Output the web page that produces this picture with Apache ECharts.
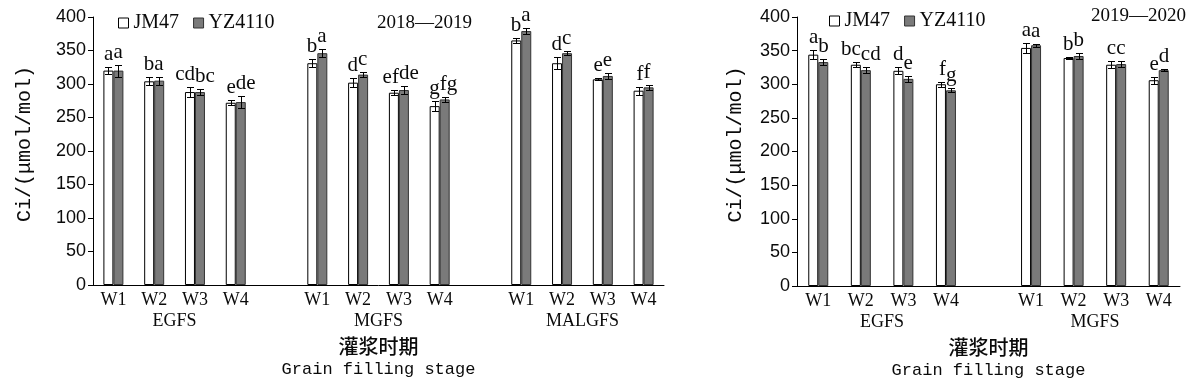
<!DOCTYPE html>
<html>
<head>
<meta charset="utf-8">
<script src="https://cdn.jsdelivr.net/npm/echarts@6/dist/echarts.min.js"></script>
<style>
html,body{margin:0;padding:0;background:#fff;}
#c{width:1200px;height:382px;}
</style>
</head>
<body>
<div id="c"></div>
<script>
// ---------- data ----------
const weeks = ['W1', 'W2', 'W3', 'W4'];
const groups1819 = ['EGFS', 'MGFS', 'MALGFS'];
const groups1920 = ['EGFS', 'MGFS'];
const yTicks = { min: 0, max: 400, interval: 50 };
const seriesNames = ['JM47', 'YZ4110'];
const titles = ['2018—2019', '2019—2020'];
const yName = 'Ci/(μmol/mol)';
const xNameCn = '灌浆时期';
const xNameEn = 'Grain filling stage';

// 2018-2019 (EGFS W1-W4, MGFS W1-W4, MALGFS W1-W4)
const jm47_1819 = [320, 304, 288, 272, 331, 302, 287, 267, 365, 331, 307, 290];
const jm47_1819_err = [5, 6, 7, 4, 6, 7, 4, 7, 4, 9, 1.5, 6];
const jm47_1819_sig = ['a', 'b', 'cd', 'e', 'b', 'd', 'ef', 'g', 'b', 'd', 'e', 'f'];
const yz_1819 = [320, 305, 288, 273, 346, 314, 291, 277, 379, 346, 312, 295];
const yz_1819_err = [9, 6, 5, 9, 6, 4, 6, 4, 5, 3, 5, 4];
const yz_1819_sig = ['a', 'a', 'bc', 'de', 'a', 'c', 'de', 'fg', 'a', 'c', 'e', 'f'];

// 2019-2020 (EGFS W1-W4, MGFS W1-W4)
const jm47_1920 = [344, 329, 320, 300, 354, 339, 329, 306];
const jm47_1920_err = [7, 4, 5, 4, 7, 1, 5, 5];
const jm47_1920_sig = ['a', 'bc', 'd', 'f', 'a', 'b', 'c', 'e'];
const yz_1920 = [333, 321, 308, 291, 358, 342, 330, 321];
const yz_1920_err = [5, 4, 4, 3, 2, 4, 4, 2];
const yz_1920_sig = ['b', 'cd', 'e', 'g', 'a', 'b', 'c', 'd'];

// ---------- helpers ----------
const BAR_W = 10;
const SERIF = '"Liberation Serif", "DejaVu Serif", serif';
const SANS = '"Liberation Sans", Arial, sans-serif';
const MONO = '"Liberation Mono", "DejaVu Sans Mono", monospace';
const CJK = '"Noto Sans CJK SC", sans-serif';
const INK = '#0a0a0a';

function buildCats(groups) {
  const cats = [];
  groups.forEach((g, gi) => {
    if (gi > 0) cats.push('gap' + gi);
    weeks.forEach(w => cats.push(g + '|' + w));
  });
  return cats;
}
function catIndex(i) { return i + Math.floor(i / weeks.length); }
function toCatData(vals, nCats) {
  const out = new Array(nCats).fill('-');
  vals.forEach((v, i) => { out[catIndex(i)] = v; });
  return out;
}
const cats1819 = buildCats(groups1819);
const cats1920 = buildCats(groups1920);

function barSeries(name, vals, cats, axis, white) {
  return {
    type: 'bar', name: name, xAxisIndex: axis, yAxisIndex: axis,
    data: toCatData(vals, cats.length),
    barWidth: BAR_W, barGap: '0%',
    itemStyle: white
      ? { color: '#ffffff', borderColor: '#000000', borderWidth: 1 }
      : { color: '#7a7a7a', borderColor: '#333333', borderWidth: 1 },
    emphasis: { disabled: true },
    z: 2
  };
}
function errSeries(vals, errs, sigs, axis, side) {
  return {
    type: 'custom', name: 'err' + axis + side, xAxisIndex: axis, yAxisIndex: axis,
    data: vals.map((v, i) => [catIndex(i), v, errs[i]]),
    z: 5, silent: true,
    renderItem: function (params, api) {
      const ci = api.value(0), v = api.value(1), e = api.value(2);
      const base = api.coord([ci, v]);
      const x = Math.round(base[0] + side * BAR_W / 2) + 0.5;
      const yTop = Math.round(api.coord([ci, v + e])[1]) + 0.5;
      const yBot = Math.round(api.coord([ci, v - e])[1]) + 0.5;
      const cap = 3.5;
      const st = { stroke: '#000', lineWidth: 1 };
      return {
        type: 'group', children: [
          { type: 'line', shape: { x1: x, y1: yTop, x2: x, y2: yBot }, style: st },
          { type: 'line', shape: { x1: x - cap, y1: yTop, x2: x + cap, y2: yTop }, style: st },
          { type: 'line', shape: { x1: x - cap, y1: yBot, x2: x + cap, y2: yBot }, style: st },
          { type: 'text', x: base[0], y: yTop - 3,
            style: { text: sigs[params.dataIndex], align: side < 0 ? 'right' : 'left',
                     verticalAlign: 'bottom', font: '21px ' + SERIF, fill: INK } }
        ]
      };
    }
  };
}
function xAxisDef(cats, grid) {
  return {
    type: 'category', gridIndex: grid, data: cats,
    axisLine: { lineStyle: { color: '#000', width: 1 } },
    axisTick: { show: false },
    axisLabel: {
      interval: 0, margin: 6, color: INK, fontSize: 18, fontFamily: SERIF,
      formatter: v => (v.indexOf('|') >= 0 ? v.split('|')[1] : '')
    },
    splitLine: { show: false }
  };
}
function yAxisDef(grid) {
  return {
    type: 'value', gridIndex: grid, min: yTicks.min, max: yTicks.max, interval: yTicks.interval,
    axisLine: { show: true, lineStyle: { color: '#000', width: 1 } },
    axisTick: { show: true, length: 5, lineStyle: { color: '#000' } },
    axisLabel: { margin: 7, color: INK, fontSize: 18, fontFamily: SANS },
    splitLine: { show: false }
  };
}

const grids = [
  { left: 93, top: 17, width: 571, height: 268 },
  { left: 797, top: 17, width: 383, height: 269 }
];

const chart = echarts.init(document.getElementById('c'), null, { renderer: 'canvas' });
const legendData = [
  { name: seriesNames[0], itemStyle: { color: '#fff', borderColor: '#000', borderWidth: 1 } },
  { name: seriesNames[1], itemStyle: { color: '#7a7a7a', borderColor: '#333', borderWidth: 1 } }
];
const titleStyle = { fontFamily: SERIF, fontSize: 19, fontWeight: 'normal', color: INK };
const legendText = { fontFamily: SERIF, fontSize: 20, color: INK };
chart.setOption({
  animation: false,
  backgroundColor: '#ffffff',
  grid: grids,
  title: [
    { text: titles[0], left: 377, top: 14, padding: 0, textStyle: titleStyle },
    { text: titles[1], left: 1091, top: 7, padding: 0, textStyle: titleStyle }
  ],
  legend: [
    { left: 118, top: 13, padding: 0, itemWidth: 10, itemHeight: 10, itemGap: 14, icon: 'rect',
      data: legendData, textStyle: legendText, selectedMode: false },
    { left: 829, top: 11, padding: 0, itemWidth: 10, itemHeight: 10, itemGap: 14, icon: 'rect',
      data: legendData, textStyle: legendText, selectedMode: false }
  ],
  xAxis: [xAxisDef(cats1819, 0), xAxisDef(cats1920, 1)],
  yAxis: [yAxisDef(0), yAxisDef(1)],
  series: [
    barSeries(seriesNames[0], jm47_1819, cats1819, 0, true),
    barSeries(seriesNames[1], yz_1819, cats1819, 0, false),
    barSeries(seriesNames[0], jm47_1920, cats1920, 1, true),
    barSeries(seriesNames[1], yz_1920, cats1920, 1, false),
    errSeries(jm47_1819, jm47_1819_err, jm47_1819_sig, 0, -1),
    errSeries(yz_1819, yz_1819_err, yz_1819_sig, 0, 1),
    errSeries(jm47_1920, jm47_1920_err, jm47_1920_sig, 1, -1),
    errSeries(yz_1920, yz_1920_err, yz_1920_sig, 1, 1)
  ]
});

// ---------- axis-derived text (group labels, axis names) ----------
function groupLabels(groups, cats, axis) {
  const els = [];
  groups.forEach((g) => {
    const i2 = cats.indexOf(g + '|W2'), i3 = cats.indexOf(g + '|W3');
    const x = (chart.convertToPixel({ xAxisIndex: axis }, i2) + chart.convertToPixel({ xAxisIndex: axis }, i3)) / 2;
    const y = chart.convertToPixel({ yAxisIndex: axis }, 0) + 36;
    els.push({ type: 'text', x: x, y: y, style: { text: g, align: 'center', verticalAlign: 'middle', font: '18px ' + SERIF, fill: INK } });
  });
  return els;
}
function axisNames(axis) {
  const g = grids[axis];
  const cx = g.left + g.width / 2;
  const y0 = chart.convertToPixel({ yAxisIndex: axis }, 0);
  const yMid = chart.convertToPixel({ yAxisIndex: axis }, 200);
  const yx = axis === 0 ? 25 : 736;
  return [
    { type: 'text', x: cx, y: y0 + 61, style: { text: xNameCn, align: 'center', verticalAlign: 'middle', font: '500 20px ' + CJK, fill: INK } },
    { type: 'text', x: cx, y: y0 + 84, style: { text: xNameEn, align: 'center', verticalAlign: 'middle', font: '17px ' + MONO, fill: INK } },
    { type: 'text', x: yx, y: yMid - 7, rotation: Math.PI / 2,
      style: { text: yName, align: 'center', verticalAlign: 'middle', font: '20px ' + MONO, fill: INK } }
  ];
}
chart.setOption({
  graphic: [].concat(
    groupLabels(groups1819, cats1819, 0),
    groupLabels(groups1920, cats1920, 1),
    axisNames(0),
    axisNames(1)
  )
});
</script>
</body>
</html>
